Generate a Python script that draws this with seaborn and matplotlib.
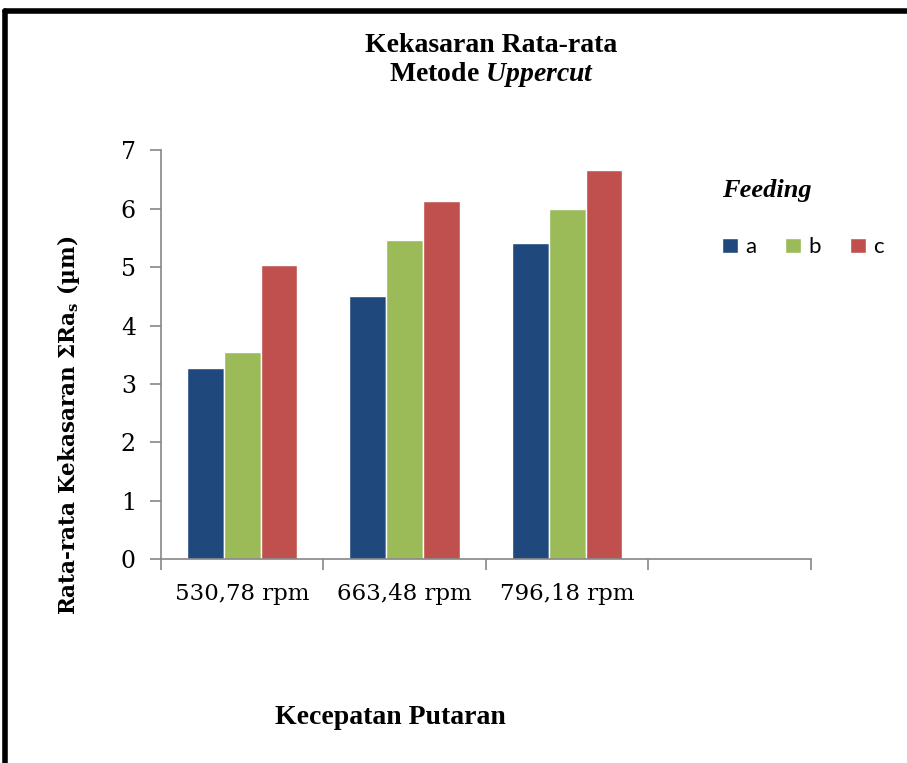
import pandas as pd
import seaborn as sns
import matplotlib.pyplot as plt
from matplotlib.lines import Line2D

# data
kecepatan = ['530,78 rpm', '663,48 rpm', '796,18 rpm']
feeding = ['a', 'b', 'c']
nilai_a = [3.28, 4.51, 5.41]
nilai_b = [3.54, 5.46, 6.00]
nilai_c = [5.04, 6.14, 6.66]
y_ticks = [0, 1, 2, 3, 4, 5, 6, 7]

df = pd.DataFrame({
    'Kecepatan': kecepatan * 3,
    'Feeding': ['a'] * 3 + ['b'] * 3 + ['c'] * 3,
    'Ra': nilai_a + nilai_b + nilai_c,
})

sns.set_style('white')
plt.rcParams['font.family'] = ['Liberation Serif', 'DejaVu Serif']
plt.rcParams['text.color'] = 'black'
plt.rcParams['mathtext.fontset'] = 'custom'
plt.rcParams['mathtext.rm'] = 'Liberation Serif:bold'
plt.rcParams['mathtext.it'] = 'Liberation Serif:italic:bold'
plt.rcParams['mathtext.bf'] = 'Liberation Serif:bold'

warna = ['#1F497D', '#9BBB59', '#C0504D']
urutan = kecepatan + ['']  # kategori keempat kosong seperti di Excel

fig = plt.figure(figsize=(9.07, 7.63), dpi=100)
ax = fig.add_axes([0.1775, 0.267, 0.7166, 0.536])

sns.barplot(data=df, x='Kecepatan', y='Ra', hue='Feeding', order=urutan,
            hue_order=feeding, palette=warna, width=0.68, saturation=1, ax=ax,
            edgecolor='white', linewidth=1, errorbar=None)

ax.set_xlim(-0.5, 3.5)
ax.set_ylim(0, 7)
ax.set_yticks(y_ticks)
ax.set_yticklabels([str(t) for t in y_ticks], fontsize=17, family='DejaVu Serif')
ax.set_xticks(range(4))
ax.set_xticklabels(urutan, fontsize=16.5, family='DejaVu Serif')
ax.set_xticks([-0.5, 0.5, 1.5, 2.5, 3.5], minor=True)
ax.tick_params(axis='x', which='major', bottom=True, length=0, pad=17,
               labelcolor='black')
ax.tick_params(axis='x', which='minor', bottom=True, length=8, color='#868686',
               width=1.2, direction='out')
ax.tick_params(axis='y', left=True, length=8, color='#868686', width=1.2,
               direction='out', pad=10, labelcolor='black')

for s in ['top', 'right']:
    ax.spines[s].set_visible(False)
for s in ['left', 'bottom']:
    ax.spines[s].set_color('#868686')
    ax.spines[s].set_linewidth(1.2)

ax.set_xlabel('')
ax.set_ylabel('')

# judul dan label
fig.text(0.542, 0.941, 'Kekasaran Rata-rata', ha='center', va='center',
         fontsize=20, fontweight='bold')
fig.text(0.542, 0.902, 'Metode $\\it{Uppercut}$', ha='center', va='center',
         fontsize=20, fontweight='bold')
fig.text(0.075, 0.443, 'Rata-rata Kekasaran ΣRa$_{\\mathregular{s}}$ (µm)', rotation=90,
         ha='center', va='center', fontsize=15.5, fontweight='bold', family='DejaVu Serif')
fig.text(0.43, 0.059, 'Kecepatan Putaran', ha='center', va='center',
         fontsize=20, fontweight='bold')

leg = ax.legend(loc='upper left', bbox_to_anchor=(0.796, 0.766),
                bbox_transform=fig.transFigure, ncol=3, frameon=False,
                title='Feeding', prop={'family': 'Lato', 'size': 16},
                handlelength=0.7, handleheight=0.7, handletextpad=0.35,
                columnspacing=1.3, labelspacing=1.6, alignment='left',
                borderpad=0, borderaxespad=0)
for t in leg.get_texts():
    t.set_color('black')
leg.get_title().set_fontsize(19)
leg.get_title().set_fontweight('bold')
leg.get_title().set_fontstyle('italic')
leg.get_title().set_family('Liberation Serif')

# bingkai tebal kiri dan atas
fig.add_artist(Line2D([0.006, 1.0], [0.986, 0.986], transform=fig.transFigure,
                      color='black', linewidth=4))
fig.add_artist(Line2D([0.006, 0.006], [0.0, 0.986], transform=fig.transFigure,
                      color='black', linewidth=4))

fig.savefig('out.png', dpi=100)
